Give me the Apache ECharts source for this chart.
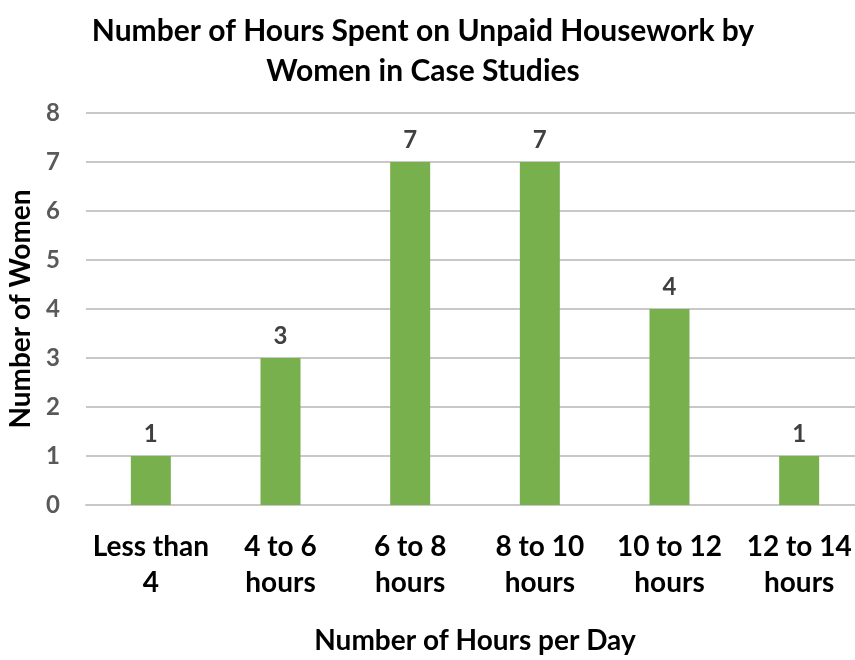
<!DOCTYPE html>
<html>
<head>
<meta charset="utf-8">
<script src="https://cdn.jsdelivr.net/npm/echarts@6/dist/echarts.min.js"></script>
<style>
  html, body { margin: 0; padding: 0; background: #fff; }
  #chart { width: 855px; height: 660px; }
</style>
</head>
<body>
<div id="chart"></div>
<script>
const categories = ['Less than\n4', '4 to 6\nhours', '6 to 8\nhours', '8 to 10\nhours', '10 to 12\nhours', '12 to 14\nhours'];
const women = [1, 3, 7, 7, 4, 1];
const yTicks = [0, 1, 2, 3, 4, 5, 6, 7, 8];

const FONT = 'Lato, "Open Sans", sans-serif';

const chart = echarts.init(document.getElementById('chart'), null, { renderer: 'canvas' });

chart.setOption({
  backgroundColor: '#fff',
  animation: false,
  title: {
    text: 'Number of Hours Spent on Unpaid Housework by\nWomen in Case Studies',
    left: 418,
    textAlign: 'center',
    top: 6,
    textStyle: { color: '#000', fontSize: 30, fontWeight: 'bold', fontFamily: FONT, lineHeight: 40 },
  },
  grid: { left: 86, top: 113, width: 778, height: 392, containLabel: false, outerBoundsMode: 'none' },
  xAxis: {
    type: 'category',
    data: categories,
    name: 'Number of Hours per Day',
    nameLocation: 'middle',
    nameGap: 122,
    nameTextStyle: { color: '#000', fontSize: 28, fontWeight: 'bold', fontFamily: FONT },
    axisLine: { lineStyle: { color: '#c8c8c8', width: 2 } },
    axisTick: { show: false },
    axisLabel: {
      color: '#000', fontSize: 28, fontWeight: 'bold', fontFamily: FONT,
      lineHeight: 36, margin: 24, interval: 0,
    },
  },
  yAxis: {
    type: 'value',
    min: yTicks[0],
    max: yTicks[yTicks.length - 1],
    interval: 1,
    name: 'Number of Women',
    nameLocation: 'middle',
    nameGap: 45,
    nameTextStyle: { color: '#000', fontSize: 28, fontWeight: 'bold', fontFamily: FONT },
    axisLine: { show: false },
    axisTick: { show: false },
    axisLabel: { color: '#595959', fontSize: 24, fontWeight: 'bold', fontFamily: FONT, margin: 26 },
    splitLine: { lineStyle: { color: '#c8c8c8', width: 2 } },
  },
  series: [{
    type: 'bar',
    data: women,
    barWidth: 40,
    itemStyle: { color: '#77b04d' },
    label: {
      show: true,
      position: 'top',
      distance: 10,
      color: '#404040',
      fontSize: 24,
      fontWeight: 'bold',
      fontFamily: FONT,
    },
  }],
});
</script>
</body>
</html>
